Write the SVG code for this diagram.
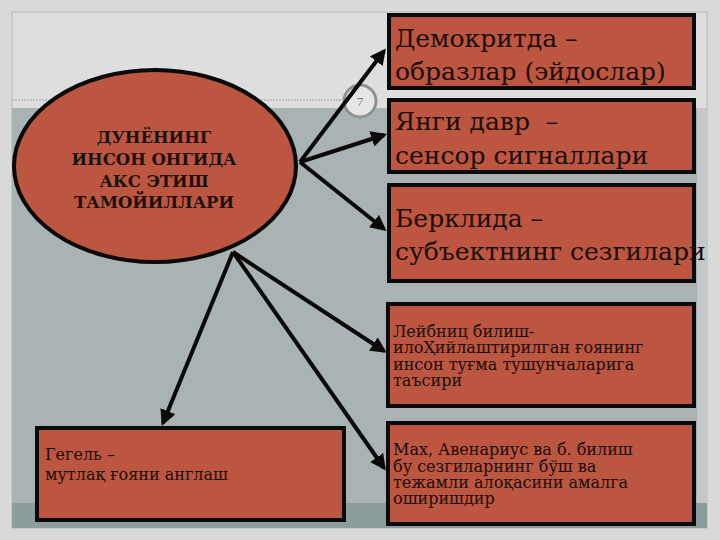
<svg xmlns="http://www.w3.org/2000/svg" width="720" height="540" viewBox="0 0 720 540">
<defs>
<style>
.box{fill:#bd5641;stroke:#0a0a0a;stroke-width:4}
.big{font-family:"DejaVu Serif","Liberation Serif",serif;font-size:25px;fill:#1a0d08}
.sm{font-family:"DejaVu Serif","Liberation Serif",serif;font-size:16px;fill:#1a0d08}
.title{font-family:"DejaVu Serif","Liberation Serif",serif;font-size:16.5px;font-weight:bold;fill:#1a120a;text-anchor:middle}
.conn{stroke:#0a0a0a;stroke-width:4;fill:none;marker-end:url(#ah)}
</style>
<marker id="ah" viewBox="0 0 10 10" refX="8" refY="5" markerWidth="4" markerHeight="4" orient="auto" markerUnits="strokeWidth">
<path d="M0,0 L10,5 L0,10 z" fill="#0a0a0a"/>
</marker>
</defs>
<rect width="720" height="540" fill="#d9d9d9"/>
<g id="slide">
<rect x="12" y="12" width="695" height="516" fill="#dedede" stroke="#b8b8b8" stroke-width="1"/>
<rect x="12" y="108" width="695" height="395" fill="#a9b3b4"/>
<rect x="697" y="108" width="10" height="395" fill="#c3c8ca"/>
<rect x="12" y="503" width="695" height="25" fill="#8d9c9c"/>
<line x1="12" y1="100" x2="342" y2="100" stroke="#a0a0a0" stroke-width="1" stroke-dasharray="2,1"/>
<circle cx="360" cy="101" r="16" fill="#e6e6e6" stroke="#909090" stroke-width="3"/>
<text x="360" y="106" font-family="Liberation Serif, serif" font-size="13" fill="#777" text-anchor="middle">7</text>
</g>
<g id="connectors">
<line class="conn" x1="300" y1="162" x2="384" y2="51"/>
<line class="conn" x1="300" y1="162" x2="384" y2="135"/>
<line class="conn" x1="300" y1="162" x2="384" y2="229"/>
<line class="conn" x1="233" y1="252" x2="384" y2="351"/>
<line class="conn" x1="233" y1="252" x2="384" y2="468"/>
<line class="conn" x1="233" y1="252" x2="163" y2="423"/>
</g>
<g id="center">
<ellipse cx="155" cy="166" rx="141" ry="96" fill="#bd5641" stroke="#0a0a0a" stroke-width="4"/>
<text class="title" x="154" y="143">ДУНЁНИНГ</text>
<text class="title" x="154" y="165">ИНСОН ОНГИДА</text>
<text class="title" x="154" y="187">АКС ЭТИШ</text>
<text class="title" x="154" y="208">ТАМОЙИЛЛАРИ</text>
</g>
<g id="democrit">
<rect class="box" x="389" y="15" width="305" height="73"/>
<text class="big" x="395" y="47">Демокритда –</text>
<text class="big" x="395" y="80">образлар (эйдослар)</text>
</g>
<g id="yangi">
<rect class="box" x="389" y="100" width="305" height="72"/>
<text class="big" x="395" y="130" xml:space="preserve">Янги давр  –</text>
<text class="big" x="395" y="164">сенсор сигналлари</text>
</g>
<g id="berkli">
<rect class="box" x="389" y="185" width="305" height="96"/>
<text class="big" x="395" y="227">Берклида –</text>
<text class="big" x="395" y="260">субъектнинг сезгилари</text>
</g>
<g id="leibniz">
<rect class="box" x="388" y="304" width="306" height="102"/>
<text class="sm" x="393" y="337">Лейбниц билиш-</text>
<text class="sm" x="393" y="353">илоҲийлаштирилган ғоянинг</text>
<text class="sm" x="393" y="370">инсон туғма тушунчаларига</text>
<text class="sm" x="393" y="386">таъсири</text>
</g>
<g id="mach">
<rect class="box" x="388" y="423" width="306" height="101"/>
<text class="sm" x="393" y="455">Мах, Авенариус ва б. билиш</text>
<text class="sm" x="393" y="472">бу сезгиларнинг бўш ва</text>
<text class="sm" x="393" y="488">тежамли алоқасини амалга</text>
<text class="sm" x="393" y="504">оширишдир</text>
</g>
<g id="hegel">
<rect class="box" x="37" y="428" width="307" height="92"/>
<text class="sm" x="45" y="460">Гегель –</text>
<text class="sm" x="45" y="480">мутлақ ғояни англаш</text>
</g>
</svg>
